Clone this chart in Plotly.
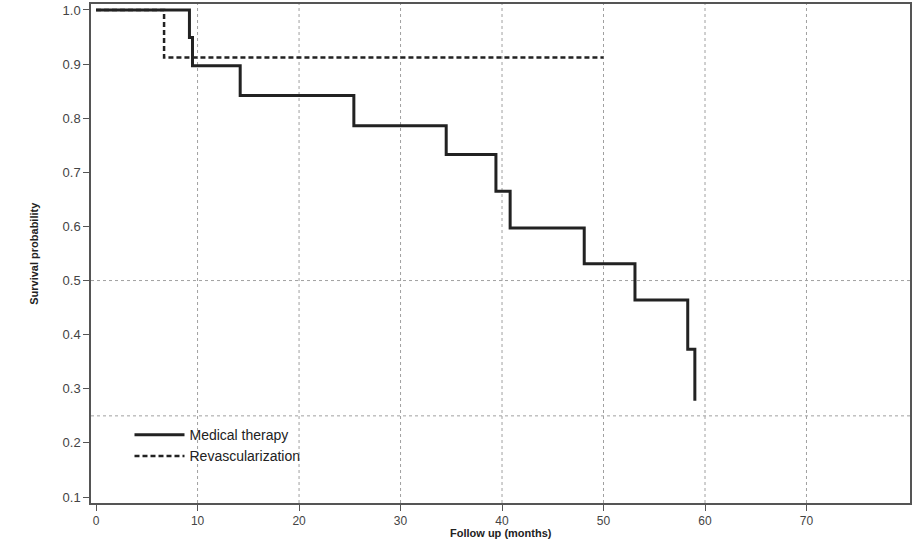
import plotly.graph_objects as go

# Medical therapy KM steps (time in months, survival)
med_t = [0, 9.2, 9.5, 14.2, 25.4, 34.5, 39.4, 40.8, 48.1, 53.1, 58.3, 59.0]
med_s = [1.0, 0.949, 0.897, 0.842, 0.786, 0.733, 0.665, 0.597, 0.531, 0.464, 0.373, 0.278]

# Revascularization
rev_t = [0, 6.7, 50.0]
rev_s = [1.0, 0.912, 0.912]

x_ticks = [0, 10, 20, 30, 40, 50, 60, 70]
y_ticks = [0.1, 0.2, 0.3, 0.4, 0.5, 0.6, 0.7, 0.8, 0.9, 1.0]
x_grid = [10, 20, 30, 40, 50, 60, 70]
y_ref = [0.25, 0.5]

fig = go.Figure()
fig.add_trace(go.Scatter(x=med_t, y=med_s, mode="lines", line=dict(shape="hv", color="#222222", width=3),
                         name="Medical therapy"))
fig.add_trace(go.Scatter(x=rev_t, y=rev_s, mode="lines", line=dict(shape="hv", color="#222222", width=2.5, dash="5px,3px"),
                         name="Revascularization"))

grid_col = "#a0a0a0"
for gx in x_grid:
    fig.add_shape(type="line", xref="x", yref="paper", x0=gx, x1=gx, y0=0, y1=1,
                  line=dict(color=grid_col, width=1, dash="dot"), layer="below")
for gy in y_ref:
    fig.add_shape(type="line", xref="paper", yref="y", x0=0, x1=1, y0=gy, y1=gy,
                  line=dict(color=grid_col, width=1, dash="dot"), layer="below")

fig.update_layout(
    width=914, height=541,
    margin=dict(l=91, r=2, t=3, b=38),
    paper_bgcolor="white", plot_bgcolor="white",
    font=dict(family="Liberation Sans, Arial, sans-serif", color="#333333"),
    showlegend=True,
    legend=dict(x=0.047, y=0.168, xanchor="left", yanchor="top", bgcolor="rgba(0,0,0,0)",
                font=dict(size=14, color="#222222"), itemwidth=50, tracegroupgap=0),
    xaxis=dict(range=[-0.5, 80.2], tickvals=x_ticks, showgrid=False, zeroline=False,
               showline=True, linecolor="#555555", linewidth=1.5, mirror=True,
               ticks="outside", ticklen=6, tickcolor="#555555", tickfont=dict(size=12, color="#444444")),
    yaxis=dict(range=[0.089, 1.011], tickvals=y_ticks, ticktext=[f"{v:.1f}" for v in y_ticks],
               showgrid=False, zeroline=False,
               showline=True, linecolor="#555555", linewidth=1.5, mirror=True,
               ticks="outside", ticklen=6, tickcolor="#555555", tickfont=dict(size=13, color="#444444")),
    annotations=[
        dict(text="<b>Survival probability</b>", xref="paper", yref="paper", x=-0.0705, y=0.5,
             xanchor="center", yanchor="middle", textangle=-90, showarrow=False,
             font=dict(size=11, color="#222222")),
        dict(text="<b>Follow up (months)</b>", xref="paper", yref="paper", x=0.5, y=-0.0755,
             xanchor="center", yanchor="bottom", showarrow=False,
             font=dict(size=11, color="#222222")),
    ],
)

fig.write_html("out.html")
